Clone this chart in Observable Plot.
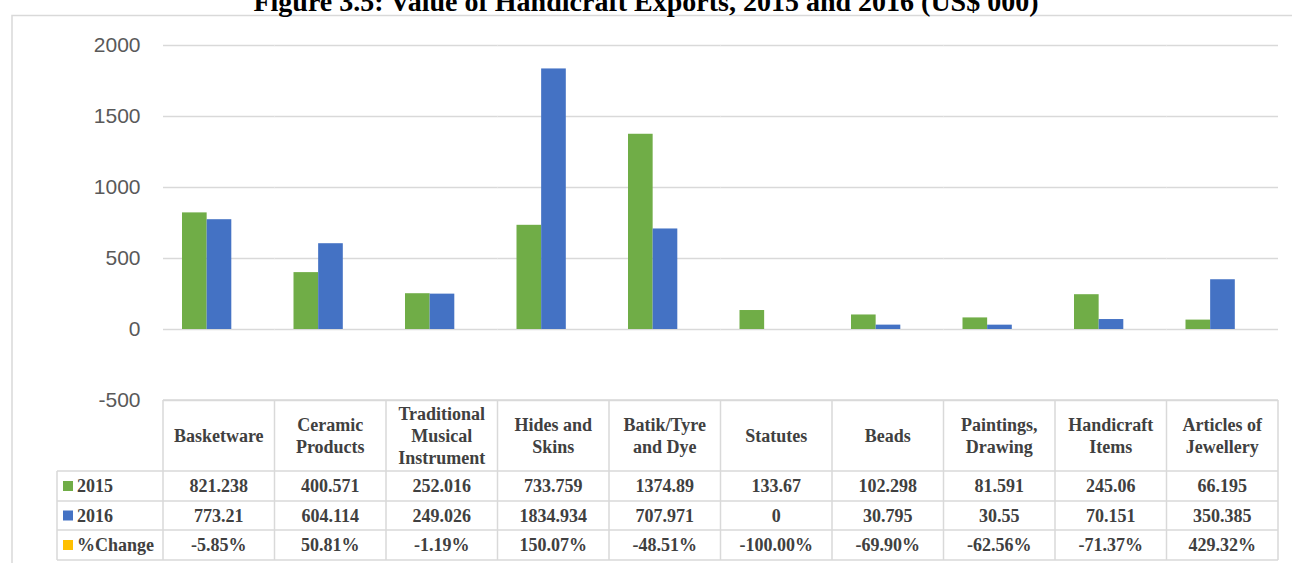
<!DOCTYPE html>
<html>
<head>
<meta charset="utf-8">
<script src="https://cdn.jsdelivr.net/npm/d3@7"></script>
<script src="https://cdn.jsdelivr.net/npm/@observablehq/plot@0.6"></script>
<style>
  html, body { margin: 0; padding: 0; background: #fff; overflow: hidden; }
  #wrap { position: relative; width: 1292px; height: 563px; overflow: hidden; }
  #title { position: absolute; left: 0; width: 1292px; top: -12px; text-align: center;
           font-family: "Liberation Serif", "Times New Roman", serif; font-weight: bold;
           font-size: 28px; line-height: 28px; color: #000; white-space: nowrap; }
  #chart { position: absolute; left: 0; top: 0; }
</style>
</head>
<body>
<div id="wrap">
  <div id="chart"></div>
  <div id="title">Figure 3.5: Value of Handicraft Exports, 2015 and 2016 (US$ 000)</div>
</div>
<script>
// ---- data ----
const categories = ["Basketware", "Ceramic Products", "Traditional Musical Instrument", "Hides and Skins",
  "Batik/Tyre and Dye", "Statutes", "Beads", "Paintings, Drawing", "Handicraft Items", "Articles of Jewellery"];
const headerLines = [["Basketware"], ["Ceramic", "Products"], ["Traditional", "Musical", "Instrument"],
  ["Hides and", "Skins"], ["Batik/Tyre", "and Dye"], ["Statutes"], ["Beads"], ["Paintings,", "Drawing"],
  ["Handicraft", "Items"], ["Articles of", "Jewellery"]];
const series = ["2015", "2016", "%Change"];
const values2015 = [821.238, 400.571, 252.016, 733.759, 1374.89, 133.67, 102.298, 81.591, 245.06, 66.195];
const values2016 = [773.21, 604.114, 249.026, 1834.934, 707.971, 0, 30.795, 30.55, 70.151, 350.385];
const pctChange = [-5.85, 50.81, -1.19, 150.07, -48.51, -100.00, -69.90, -62.56, -71.37, 429.32];
const yTicks = [-500, 0, 500, 1000, 1500, 2000];
const colors = ["#70AD47", "#4472C4", "#FFC000"];

// ---- build table for Plot ----
const rows = [];
categories.forEach((c, i) => {
  rows.push({cat: c, year: "2015", value: values2015[i]});
  rows.push({cat: c, year: "2016", value: values2016[i]});
});

const W = 1292, H = 563, ML = 163, MR = 14, MT = 45, MB = 163;
const gridColor = "#d9d9d9";

const plot = Plot.plot({
  width: W, height: H,
  marginLeft: ML, marginRight: MR, marginTop: MT, marginBottom: MB,
  style: {fontFamily: "'Liberation Sans', Arial, sans-serif", background: "transparent", overflow: "visible"},
  fx: {domain: categories, padding: 0, round: false, axis: null, label: null},
  x: {domain: ["2015", "2016"], range: [ML + 19, ML + 68.3], padding: 0, round: false, axis: null, label: null},
  y: {domain: [-500, 2000], label: null},
  color: {domain: series, range: colors},
  marks: [
    Plot.gridY(yTicks, {stroke: gridColor, strokeOpacity: 1, strokeWidth: 1.4}),
    Plot.barY(rows, {fx: "cat", x: "year", y: "value", fill: "year"}),
    Plot.axisY(yTicks, {tickSize: 0, tickPadding: 23, fontSize: 21, fill: "#595959",
      tickFormat: d => String(d), label: null})
  ]
});
document.getElementById("chart").appendChild(plot);

// ---- data table beneath, positioned by the fx scale ----
const fx = plot.scale("fx");
const bw = fx.bandwidth;
const left = fx.apply(categories[0]);
const right = fx.apply(categories[categories.length - 1]) + bw;
const svg = d3.select(plot);
const g = svg.append("g");

const tableTop = 400, headBottom = 471, rowBounds = [471, 501, 530, 560];
const rowLeft = 57;
const serif = "'Liberation Serif', 'Times New Roman', serif";
const textColor = "#404040";

// outer chart frame
g.append("path").attr("d", `M12,${H + 2}V15.5H${W + 2}`).attr("fill", "none")
  .attr("stroke", gridColor).attr("stroke-width", 1.5);

// horizontal lines
g.append("line").attr("x1", left).attr("x2", right).attr("y1", tableTop).attr("y2", tableTop)
  .attr("stroke", gridColor).attr("stroke-width", 1.5);
rowBounds.forEach(y => g.append("line").attr("x1", rowLeft).attr("x2", right).attr("y1", y).attr("y2", y)
  .attr("stroke", gridColor).attr("stroke-width", 1.5));
// vertical lines
categories.forEach(c => {
  const x = fx.apply(c);
  g.append("line").attr("x1", x).attr("x2", x).attr("y1", tableTop).attr("y2", 560)
    .attr("stroke", gridColor).attr("stroke-width", 1.5);
});
g.append("line").attr("x1", right).attr("x2", right).attr("y1", tableTop).attr("y2", 560)
  .attr("stroke", gridColor).attr("stroke-width", 1.5);
g.append("line").attr("x1", rowLeft).attr("x2", rowLeft).attr("y1", headBottom).attr("y2", 560)
  .attr("stroke", gridColor).attr("stroke-width", 1.5);

// header text
const headCenter = (tableTop + headBottom) / 2;
const lh = 22;
categories.forEach((c, i) => {
  const lines = headerLines[i];
  const cx = fx.apply(c) + bw / 2;
  const t = g.append("text").attr("text-anchor", "middle").attr("font-family", serif)
    .attr("font-weight", "bold").attr("font-size", 18).attr("fill", textColor);
  lines.forEach((ln, k) => {
    t.append("tspan").attr("x", cx).attr("y", headCenter + 6 - (lines.length - 1) * lh / 2 + k * lh).text(ln);
  });
});

// rows
const rowData = [
  values2015.map(v => String(v)),
  values2016.map(v => String(v)),
  pctChange.map(v => v.toFixed(2) + "%")
];
rowData.forEach((vals, r) => {
  const cy = (rowBounds[r] + [501, 530, 560][r]) / 2;
  g.append("rect").attr("x", 63).attr("y", cy - 5).attr("width", 10).attr("height", 10).attr("fill", colors[r]);
  g.append("text").attr("x", 77).attr("y", cy + 6).attr("text-anchor", "start").attr("font-family", serif)
    .attr("font-weight", "bold").attr("font-size", 18).attr("fill", textColor).text(series[r]);
  categories.forEach((c, i) => {
    g.append("text").attr("x", fx.apply(c) + bw / 2).attr("y", cy + 6).attr("text-anchor", "middle")
      .attr("font-family", serif).attr("font-weight", "bold").attr("font-size", 18)
      .attr("fill", textColor).text(vals[i]);
  });
});
</script>
</body>
</html>
